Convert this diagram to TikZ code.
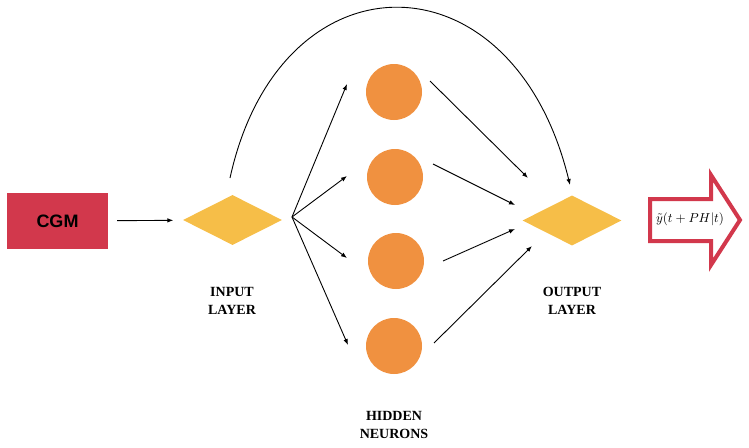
\documentclass[tikz,border=0pt]{standalone}
\usepackage{fontspec}
\setmainfont{Liberation Serif}
\newfontfamily\cgmfont{Liberation Sans}
\usetikzlibrary{shapes.geometric,arrows.meta}
\definecolor{cgmred}{RGB}{210,56,76}
\definecolor{diayellow}{RGB}{246,190,72}
\definecolor{neuorange}{RGB}{240,145,64}
\tikzset{
  cgmbox/.style={fill=cgmred, minimum width=101pt, minimum height=56pt, inner sep=0pt,
    font=\cgmfont\bfseries\fontsize{18}{20}\selectfont},
  layerdia/.style={diamond, fill=diayellow, minimum width=99pt, minimum height=50pt, inner sep=0pt, aspect=2},
  neuron/.style={circle, fill=neuorange, minimum size=56pt, inner sep=0pt},
  lbl/.style={align=center, font=\bfseries\fontsize{14}{18}\selectfont},
  conn/.style={line width=0.9pt, -{Latex[length=6pt,width=4.5pt]}},
  bigarrow/.style={draw=cgmred, line width=4pt, line join=miter, fill=white}
}
\begin{document}
\begin{tikzpicture}[x=1pt,y=-1pt]
\useasboundingbox (0,0) rectangle (749,447);
% nodes
\node[cgmbox] (cgm) at (57.5,221) {CGM};
\node[layerdia] (in) at (232.5,220) {};
\node[layerdia] (out) at (572,220.5) {};
\node[neuron] (h1) at (394,92) {};
\node[neuron] (h2) at (395,177) {};
\node[neuron] (h3) at (396,261) {};
\node[neuron] (h4) at (394,346) {};
% labels
\node[lbl] (inlbl) at (232,301) {INPUT\\LAYER};
\node[lbl] (outlbl) at (572,301) {OUTPUT\\LAYER};
\node[lbl] (hidlbl) at (394,425) {HIDDEN\\NEURONS};
% output arrow
\draw[bigarrow] (650,199) -- (711,199) -- (711,175) -- (740,220) -- (711,265) -- (711,241) -- (650,241) -- cycle;
\node[inner sep=1pt, scale=1.3] (pred) at (690,219) {$\tilde{y}(t+PH|t)$};
% coordinates
\coordinate (fan) at (292,217);
\coordinate (t1) at (347,84);
\coordinate (t2) at (347,176);
\coordinate (t3) at (347,258);
\coordinate (t4) at (348,345);
\coordinate (s1) at (430,81);
\coordinate (e1) at (528,178);
\coordinate (s2) at (433,164);
\coordinate (e2) at (515,205);
\coordinate (s3) at (443,261);
\coordinate (e3) at (515,229);
\coordinate (s4) at (434,343);
\coordinate (e4) at (532,246);
\coordinate (cs) at (230,178);
\coordinate (ce) at (570,185);
% connectors
\draw[conn, shorten <=9pt, shorten >=10pt] (cgm) -- (in);
\draw[conn] (fan) -- (t1);
\draw[conn] (fan) -- (t2);
\draw[conn] (fan) -- (t3);
\draw[conn] (fan) -- (t4);
\draw[conn] (s1) -- (e1);
\draw[conn] (s2) -- (e2);
\draw[conn] (s3) -- (e3);
\draw[conn] (s4) -- (e4);
\draw[conn] (cs) .. controls (280,-50) and (513,-50) .. (ce);
\end{tikzpicture}
\end{document}
